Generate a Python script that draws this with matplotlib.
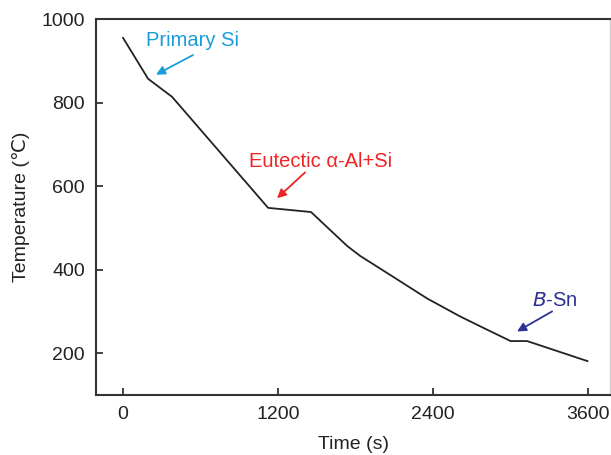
import matplotlib
matplotlib.use("Agg")
import matplotlib.pyplot as plt

plt.rcParams['font.family'] = ['Liberation Sans', 'DejaVu Sans']

# cooling curve
time_s = [0, 194, 379, 1123, 1455, 1734, 1835, 2090, 2354, 2609, 2800, 3000, 3128, 3595]
temp_c = [955, 857, 814, 548, 538, 457, 433, 383, 331, 288, 259, 229, 229, 181]

xticks = [0, 1200, 2400, 3600]
yticks = [200, 400, 600, 800, 1000]

# annotations: text, text position, arrow tip, colour
notes = [
    ("Primary Si", (538, 948), (255, 867), "#1b9dd9"),
    ("Eutectic α-Al+Si", (1525, 660), (1192, 571), "#ee2524"),
    (r"$\it{B}$-Sn", (3345, 326), (3050, 252), "#2e3192"),
]
tails = [(542, 914), (1409, 633), (3321, 300)]

fig = plt.figure(figsize=(6.11, 4.55), dpi=100)
ax = fig.add_axes([0.157, 0.132, 0.8415, 0.826])

ax.plot(time_s, temp_c, color="#222222", lw=1.3)

for (txt, pos, tip, col), tail in zip(notes, tails):
    ax.text(pos[0], pos[1], txt, color=col, fontsize=14.5, ha="center", va="center")
    ax.annotate("", xy=tip, xytext=tail,
                arrowprops=dict(arrowstyle="-|>", color=col, lw=1.3,
                                mutation_scale=13, shrinkA=0, shrinkB=0))

ax.set_xlim(-210, 3770)
ax.set_ylim(100, 1000)
ax.set_xticks(xticks)
ax.set_yticks(yticks)
ax.tick_params(direction="in", length=5, width=1.3, labelsize=14,
               colors="#333333", labelcolor="#222222", pad=8)
for side in ["left", "bottom", "top"]:
    ax.spines[side].set_linewidth(1.5)
    ax.spines[side].set_color("#333333")
ax.spines["right"].set_color("#cccccc")
ax.spines["right"].set_linewidth(1.0)

ax.set_xlabel("Time (s)", fontsize=14, color="#222222", labelpad=9)
ax.set_ylabel("Temperature (℃)", fontsize=14, color="#222222", labelpad=8)

fig.savefig("out.png", dpi=100)
